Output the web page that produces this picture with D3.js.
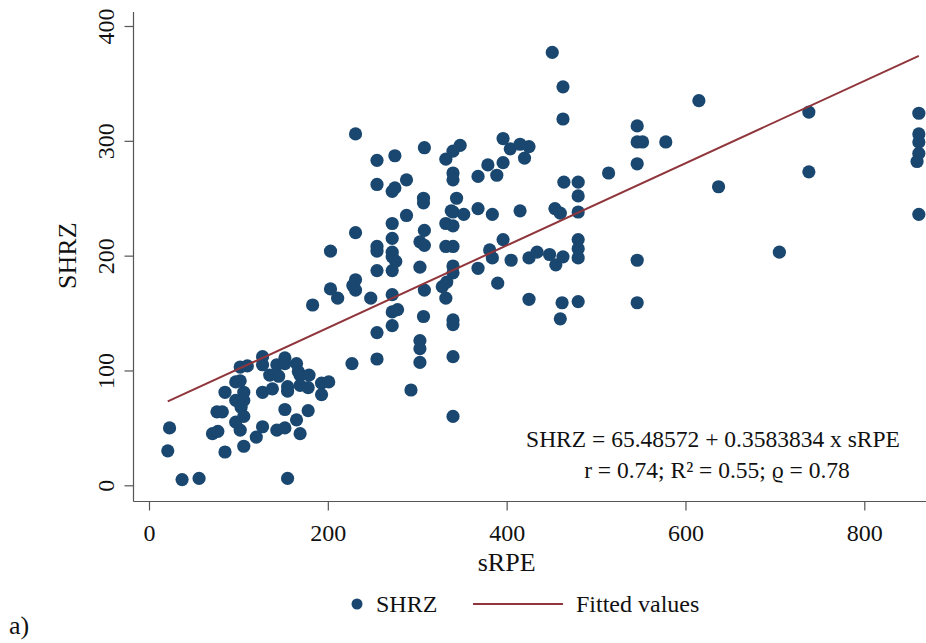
<!DOCTYPE html>
<html>
<head>
<meta charset="utf-8">
<script src="https://cdn.jsdelivr.net/npm/d3@7.9.0/dist/d3.min.js"></script>
<style>
  html, body { margin: 0; padding: 0; background: #fff; }
  svg { display: block; font-family: "Liberation Serif", "DejaVu Serif", serif; }
</style>
</head>
<body>
<svg id="chart" width="926" height="643"></svg>
<script>
// values
const sRPE = [23, 21, 37, 56, 85, 76, 82, 85, 71, 77, 97, 102, 102, 110, 106, 97, 106, 103, 97, 106,
  102, 106, 120, 127, 127, 127, 127, 138, 135, 145, 143, 152, 152, 155, 155, 152, 143, 152, 155, 165,
  167, 169, 165, 169, 169, 178, 179, 178, 193, 201, 193,
  227, 255, 255, 272, 272, 278, 272, 248, 183, 203, 211, 231, 228, 231, 255, 272, 272, 272, 276, 255,
  255, 272, 203, 231, 272, 288, 275, 272, 255, 255, 275, 231,
  451, 463, 463, 308, 332, 340, 348, 340, 340, 396, 404, 415, 425, 420, 396, 379, 389, 368, 288, 307,
  307, 344, 338, 340, 352, 368, 384, 415, 454, 460, 480, 480, 480, 464, 308, 332, 340, 303, 308, 332,
  340, 303, 340, 340, 368, 381, 384, 396, 405, 425, 434, 448, 455, 463, 480, 480, 480, 308, 307, 328,
  333, 332, 340, 340, 390, 425, 462, 460, 480, 303, 303, 303, 340, 293, 340,
  615, 546, 546, 552, 578, 546, 514, 738, 861, 861, 861, 861, 859, 738, 637, 861, 546, 705, 546];

const SHRZ = [50, 30, 5, 6, 81, 64, 64, 29, 45, 47, 90, 91, 103, 104, 81, 74, 74, 68, 55, 60,
  48, 34, 42, 51, 112, 105, 81, 84, 96, 95, 105, 111, 106, 86, 82, 66, 48, 50, 6, 106,
  99, 96, 57, 45, 87, 85, 96, 65, 89, 90, 79,
  106, 110, 133, 139, 151, 153, 166, 163, 157, 171, 163, 179, 174, 170, 187, 187, 203, 199, 195, 208,
  204, 215, 204, 220, 228, 235, 259, 256, 262, 283, 287, 306,
  377, 347, 319, 294, 284, 291, 296, 272, 266, 302, 293, 297, 295, 285, 281, 279, 270, 269, 266, 250,
  246, 250, 239, 238, 236, 241, 236, 239, 241, 237, 264, 252, 238, 264, 222, 228, 226, 212, 209, 208,
  208, 190, 191, 185, 189, 205, 198, 214, 196, 198, 203, 201, 192, 199, 214, 206, 198, 170, 147, 173,
  177, 163, 144, 140, 176, 162, 159, 145, 160, 126, 119, 107, 112, 83, 60,
  335, 313, 299, 299, 299, 280, 272, 325, 324, 306, 299, 289, 282, 273, 260, 236, 196, 203, 159];

const xTicks = [0, 200, 400, 600, 800];
const yTicks = [0, 100, 200, 300, 400];
const intercept = 65.48572;
const slope = 0.3583834;
const fitLabel = 'SHRZ = 65.48572 + 0.3583834 x sRPE';
const statsLabel = 'r = 0.74; R\u00B2 = 0.55; \u03F1 = 0.78';

const navy = '#1a476f';
const maroon = '#90353b';
const axisColor = '#555';

const svg = d3.select('#chart');

const x = d3.scaleLinear().domain([0, 800]).range([149, 864.3]);
const y = d3.scaleLinear().domain([0, 400]).range([485.3, 26]);

const axisX = 133.5;  // left spine
const axisY = 501.5;  // bottom spine

// spines
svg.append('line')
  .attr('x1', axisX).attr('x2', axisX)
  .attr('y1', 12).attr('y2', axisY)
  .attr('stroke', axisColor).attr('stroke-width', 1.2);
svg.append('line')
  .attr('x1', axisX).attr('x2', 926)
  .attr('y1', axisY).attr('y2', axisY)
  .attr('stroke', axisColor).attr('stroke-width', 1.2);

// y axis
const gy = svg.append('g')
  .attr('transform', `translate(${axisX},0)`)
  .call(d3.axisLeft(y).tickValues(yTicks).tickSize(9).tickSizeOuter(0));
gy.select('.domain').remove();
gy.selectAll('line').attr('stroke', axisColor).attr('stroke-width', 1.2);
gy.selectAll('text')
  .attr('transform', 'rotate(-90)')
  .attr('x', 0).attr('y', -20).attr('dy', 0)
  .attr('text-anchor', 'middle')
  .attr('fill', '#111')
  .style('font-size', '24px')
  .style('font-family', '"Liberation Serif", serif');

// x axis
const gx = svg.append('g')
  .attr('transform', `translate(0,${axisY})`)
  .call(d3.axisBottom(x).tickValues(xTicks).tickSize(9).tickSizeOuter(0));
gx.select('.domain').remove();
gx.selectAll('line').attr('stroke', axisColor).attr('stroke-width', 1.2);
gx.selectAll('text')
  .attr('y', 39).attr('dy', 0)
  .attr('fill', '#111')
  .style('font-size', '24px')
  .style('font-family', '"Liberation Serif", serif');

// axis titles
svg.append('text')
  .attr('x', (x(0) + x(800)) / 2).attr('y', 571)
  .attr('text-anchor', 'middle')
  .style('font-size', '26px').attr('fill', '#111')
  .text('sRPE');
svg.append('text')
  .attr('transform', `translate(76,${(y(0) + y(400)) / 2}) rotate(-90)`)
  .attr('text-anchor', 'middle')
  .style('font-size', '26px').attr('fill', '#111')
  .text('SHRZ');

// points
const pts = sRPE.map((d, i) => ({ sRPE: d, SHRZ: SHRZ[i] }));
svg.append('g')
  .selectAll('circle')
  .data(pts)
  .join('circle')
  .attr('cx', (d) => x(d.sRPE))
  .attr('cy', (d) => y(d.SHRZ))
  .attr('r', 6.6)
  .attr('fill', navy);

// fitted line
const ext = d3.extent(sRPE);
const fit = ext.map((v) => ({ sRPE: v, SHRZ: intercept + slope * v }));
svg.append('path')
  .datum(fit)
  .attr('d', d3.line().x((d) => x(d.sRPE)).y((d) => y(d.SHRZ)))
  .attr('fill', 'none')
  .attr('stroke', maroon)
  .attr('stroke-width', 2);

// annotation
svg.append('text')
  .attr('x', 713).attr('y', 447)
  .attr('text-anchor', 'middle')
  .style('font-size', '23.5px').attr('fill', '#111')
  .text(fitLabel);
svg.append('text')
  .attr('x', 717).attr('y', 478)
  .attr('text-anchor', 'middle')
  .style('font-size', '23.5px').attr('fill', '#111')
  .text(statsLabel);

// legend
const leg = svg.append('g');
leg.append('circle').attr('cx', 357).attr('cy', 604).attr('r', 5.5).attr('fill', navy);
leg.append('text').attr('x', 376).attr('y', 612)
  .style('font-size', '24px').attr('fill', '#111').text('SHRZ');
leg.append('line')
  .attr('x1', 473).attr('x2', 563).attr('y1', 604).attr('y2', 604)
  .attr('stroke', maroon).attr('stroke-width', 2);
leg.append('text').attr('x', 576).attr('y', 612)
  .style('font-size', '24px').attr('fill', '#111').text('Fitted values');

// panel label
svg.append('text').attr('x', 9).attr('y', 634)
  .style('font-size', '26px').attr('fill', '#111').text('a)');
</script>
</body>
</html>
